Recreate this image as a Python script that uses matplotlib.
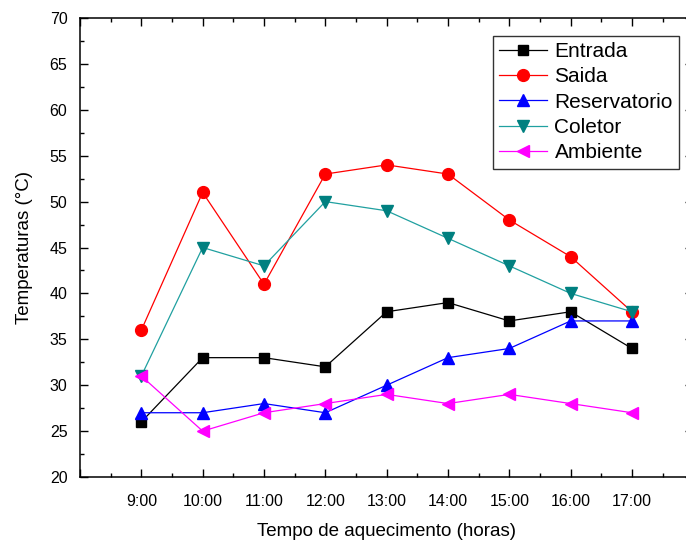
import matplotlib.pyplot as plt
from matplotlib.ticker import MultipleLocator

plt.rcParams['font.family'] = ['Liberation Sans', 'DejaVu Sans']

# Heating time (hours) and measured temperatures
horas = ['9:00', '10:00', '11:00', '12:00', '13:00', '14:00', '15:00', '16:00', '17:00']
x = list(range(1, len(horas) + 1))
entrada = [26, 33, 33, 32, 38, 39, 37, 38, 34]
saida = [36, 51, 41, 53, 54, 53, 48, 44, 38]
reservatorio = [27, 27, 28, 27, 30, 33, 34, 37, 37]
coletor = [31, 45, 43, 50, 49, 46, 43, 40, 38]
ambiente = [31, 25, 27, 28, 29, 28, 29, 28, 27]

fig = plt.figure(figsize=(6.86, 5.45), dpi=100)
# axes runs a bit past the right edge of the picture, as in the original
ax = fig.add_axes([80 / 686, 68 / 545, 613.3 / 686, 459 / 545])

ax.plot(x, entrada, color='black', lw=0.9, marker='s', ms=7, label='Entrada')
ax.plot(x, saida, color='red', lw=0.9, marker='o', ms=8.5, label='Saida')
ax.plot(x, reservatorio, color='blue', lw=0.9, marker='^', ms=8.5, label='Reservatorio')
ax.plot(x, coletor, color='#20a0a0', lw=0.9, marker='v', ms=8.5,
        mfc='#008080', mec='#008080', label='Coletor')
ax.plot(x, ambiente, color='magenta', lw=0.9, marker='<', ms=8.5, label='Ambiente')

ax.set_xlim(0, 10)
ax.set_ylim(20, 70)
ax.set_xticks(range(0, 11))
ax.set_xticklabels([''] + horas + [''])
ax.xaxis.set_minor_locator(MultipleLocator(0.5))
ax.yaxis.set_major_locator(MultipleLocator(5))
ax.yaxis.set_minor_locator(MultipleLocator(2.5))
ax.tick_params(which='both', direction='in', top=True, right=True, labelsize=11.5, width=1)
ax.tick_params(which='major', length=6)
ax.tick_params(which='minor', length=3)
ax.tick_params(axis='x', pad=12)
ax.tick_params(axis='y', pad=9)
for s in ax.spines.values():
    s.set_linewidth(1.1)

ax.set_xlabel('Tempo de aquecimento (horas)', fontsize=13.5, labelpad=10)
ax.set_ylabel('Temperaturas (°C)', fontsize=13.5, labelpad=12)

leg = ax.legend(loc='upper left', bbox_to_anchor=(493 / 686, 1 - 36 / 545),
                bbox_transform=fig.transFigure, fontsize=15, frameon=True,
                fancybox=False, edgecolor='black', handlelength=2.3,
                borderpad=0.3, labelspacing=0.3, handletextpad=0.35, borderaxespad=0)
leg.get_frame().set_linewidth(1)

fig.savefig('out.png', dpi=100)
